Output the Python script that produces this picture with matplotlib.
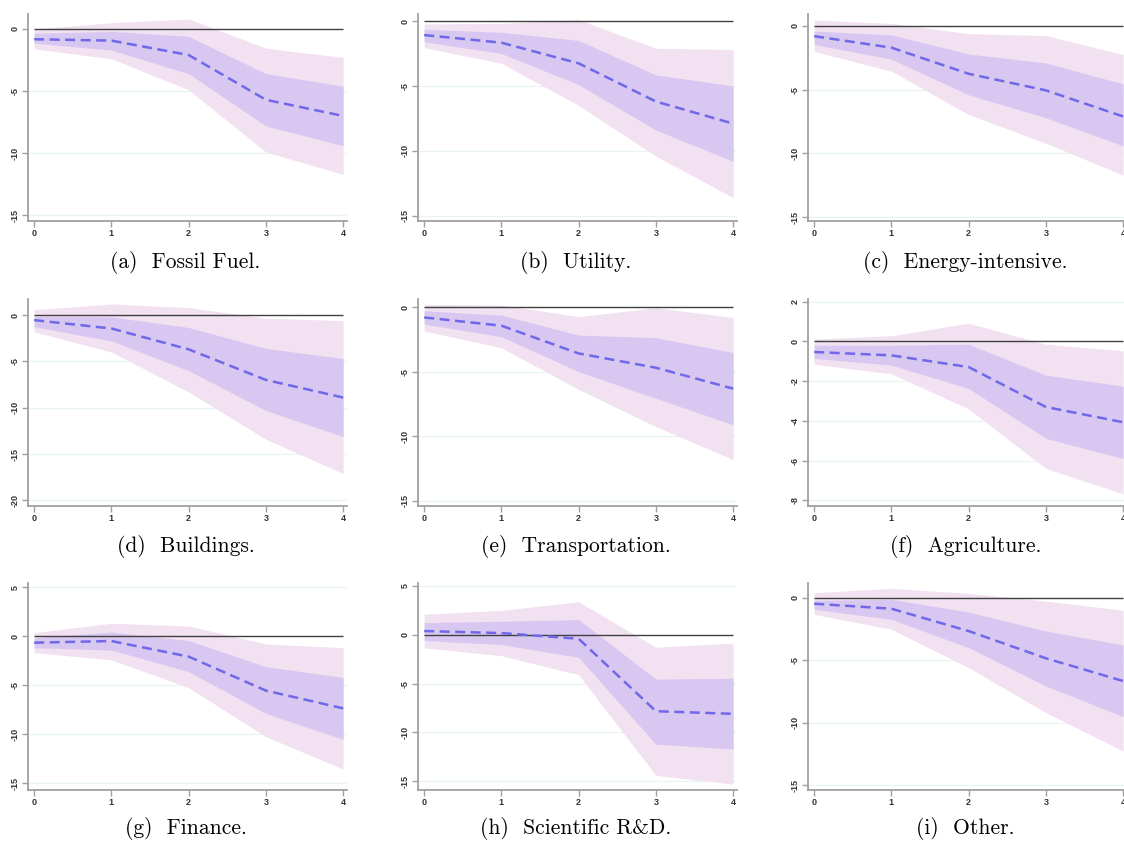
import matplotlib
matplotlib.use("Agg")
import matplotlib.pyplot as plt

horizons = [0, 1, 2, 3, 4]
captions = ["(a)  Fossil Fuel.", "(b)  Utility.", "(c)  Energy-intensive.",
            "(d)  Buildings.", "(e)  Transportation.", "(f)  Agriculture.",
            "(g)  Finance.", "(h)  Scientific R&D.", "(i)  Other."]

mean = [
    [-0.83, -0.94, -2.1, -5.7, -7.0],
    [-1.08, -1.67, -3.26, -6.2, -7.9],
    [-0.8, -1.7, -3.75, -5.05, -7.1],
    [-0.55, -1.45, -3.7, -7.0, -8.9],
    [-0.78, -1.42, -3.57, -4.68, -6.3],
    [-0.53, -0.7, -1.29, -3.3, -4.07],
    [-0.65, -0.48, -2.07, -5.54, -7.35],
    [0.38, 0.17, -0.41, -7.83, -8.1],
    [-0.48, -0.88, -2.67, -4.85, -6.67],
]
hi68 = [
    [-0.35, -0.2, -0.6, -3.6, -4.6],
    [-0.64, -0.87, -1.5, -4.15, -5.0],
    [-0.4, -0.7, -2.2, -2.9, -4.55],
    [-0.15, -0.2, -1.35, -3.6, -4.7],
    [-0.26, -0.6, -2.15, -2.35, -3.5],
    [-0.19, -0.19, -0.14, -1.7, -2.25],
    [-0.14, 0.44, -0.44, -3.1, -4.2],
    [1.24, 1.38, 1.55, -4.55, -4.45],
    [-0.21, -0.13, -1.15, -2.67, -3.79],
]
lo68 = [
    [-1.15, -1.7, -3.6, -7.8, -9.4],
    [-1.6, -2.5, -4.9, -8.4, -10.8],
    [-1.45, -2.6, -5.4, -7.2, -9.4],
    [-1.25, -2.8, -6.0, -10.3, -13.1],
    [-1.3, -2.27, -4.98, -7.05, -9.1],
    [-0.85, -1.19, -2.37, -4.88, -5.9],
    [-1.16, -1.4, -3.6, -7.86, -10.5],
    [-0.59, -1.0, -2.31, -11.2, -11.7],
    [-0.93, -1.73, -4.0, -7.07, -9.52],
]
hi95 = [
    [0.0, 0.5, 0.8, -1.55, -2.3],
    [-0.23, -0.18, 0.1, -2.1, -2.2],
    [0.47, 0.2, -0.6, -0.75, -2.25],
    [0.57, 1.2, 0.8, -0.35, -0.6],
    [0.23, 0.18, -0.72, -0.03, -0.78],
    [0.12, 0.29, 0.92, -0.14, -0.47],
    [0.37, 1.33, 1.05, -0.78, -1.16],
    [2.1, 2.5, 3.38, -1.28, -0.86],
    [0.4, 0.75, 0.35, -0.27, -1.0],
]
lo95 = [
    [-1.6, -2.4, -4.9, -9.9, -11.7],
    [-2.05, -3.25, -6.5, -10.4, -13.6],
    [-2.0, -3.55, -6.95, -9.2, -11.7],
    [-1.8, -4.0, -8.3, -13.4, -17.1],
    [-1.83, -3.13, -6.36, -9.25, -11.8],
    [-1.15, -1.63, -3.4, -6.4, -7.68],
    [-1.67, -2.4, -5.24, -10.24, -13.54],
    [-1.34, -2.14, -4.1, -14.4, -15.3],
    [-1.33, -2.53, -5.6, -9.2, -12.27],
]
yticks = [
    [-15, -10, -5, 0], [-15, -10, -5, 0], [-15, -10, -5, 0],
    [-20, -15, -10, -5, 0], [-15, -10, -5, 0], [-8, -6, -4, -2, 0, 2],
    [-15, -10, -5, 0, 5], [-15, -10, -5, 0, 5], [-15, -10, -5, 0],
]
ylims = [
    (-15.45, 1.2), (-15.4, 0.54), (-15.3, 0.94),
    (-20.6, 1.73), (-15.4, 0.65), (-8.29, 2.14),
    (-15.68, 5.44), (-15.9, 5.3), (-15.4, 1.18),
]

W, H = 1124, 843
fig = plt.figure(figsize=(W / 100, H / 100), dpi=100)

col_left = [28, 418, 808]
row_top = [14, 299, 583]
ax_w, ax_h = 319, 207
cap_y = [262, 547, 828]

c95 = "#f1e1f1"
c68 = "#d7c7f1"
cline = "#7068e8"

for k in range(9):
    r, c = divmod(k, 3)
    left = col_left[c]
    top = row_top[r]
    ax = fig.add_axes([left / W, 1 - (top + ax_h) / H, ax_w / W, ax_h / H])
    ax.fill_between(horizons, lo95[k], hi95[k], color=c95, lw=0, zorder=1)
    ax.fill_between(horizons, lo68[k], hi68[k], color=c68, lw=0, zorder=2)
    for t in yticks[k]:
        if t != 0:
            ax.axhline(t, color="#e8f3f3", lw=0.9, zorder=0)
    ax.hlines(0, horizons[0], horizons[-1], color="#404040", lw=1.0, zorder=3)
    ax.plot(horizons, mean[k], color=cline, lw=1.8, ls=(0, (4, 2.2)), zorder=4)
    ax.set_xlim(-0.08, 4.05)
    ax.set_ylim(*ylims[k])
    ax.set_xticks(horizons)
    ax.set_yticks(yticks[k])
    ax.set_xticklabels([str(h) for h in horizons], family="Liberation Sans",
                       weight="bold")
    ax.set_yticklabels([str(t) for t in yticks[k]], rotation=90, va="center",
                       family="Liberation Sans", weight="bold")
    for s in ["top", "right"]:
        ax.spines[s].set_visible(False)
    for s in ["left", "bottom"]:
        ax.spines[s].set_color("#a0a0a0")
        ax.spines[s].set_linewidth(1.3)
    ax.tick_params(axis="both", direction="out", length=4, width=1,
                   color="#a0a0a0", labelsize=6.5, labelcolor="#333333", pad=2)
    ax.set_facecolor("white")
    fig.text((left + ax_w / 2 - 2) / W, 1 - cap_y[r] / H, captions[k],
             family="cmr10", fontsize=15.5, ha="center", va="center")

fig.savefig("out.png", dpi=100, facecolor="white")
